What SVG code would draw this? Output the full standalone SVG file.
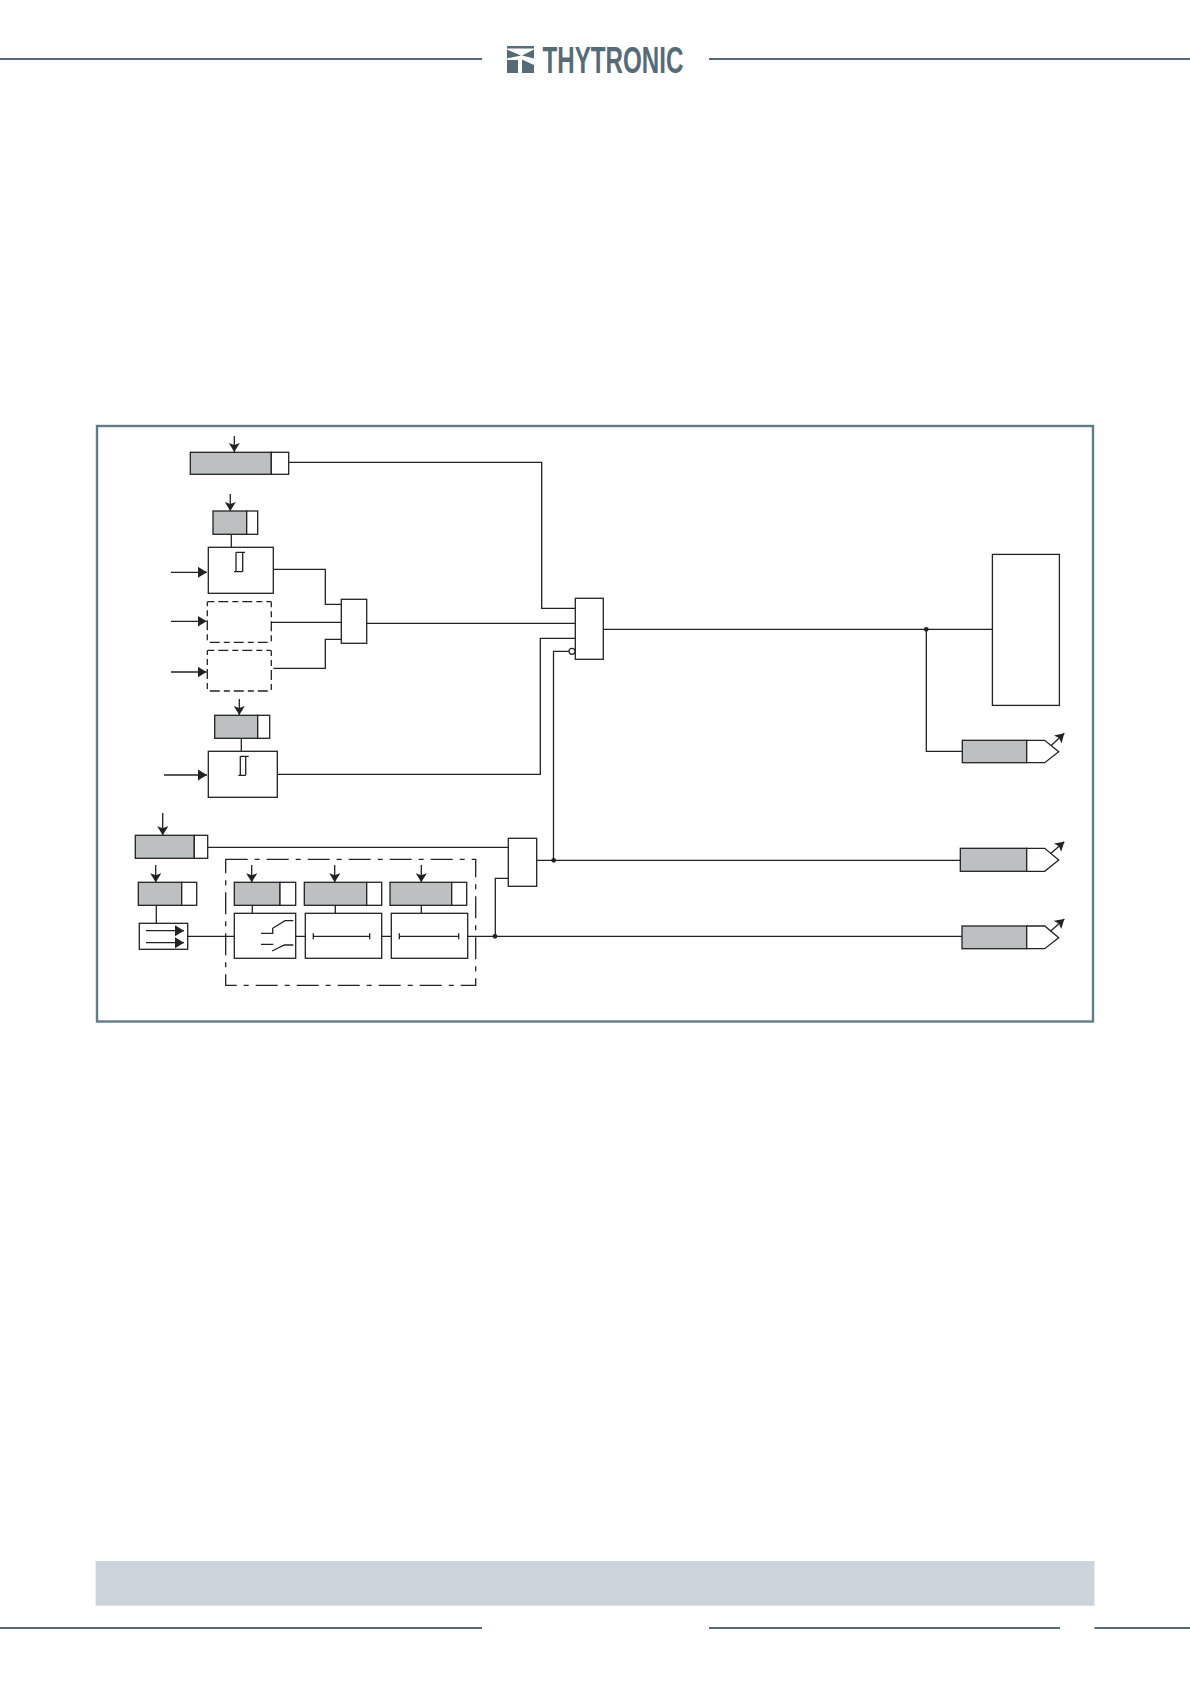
<svg xmlns="http://www.w3.org/2000/svg" width="1190" height="1684" viewBox="0 0 1190 1684">
<style>
.rule{stroke:#566b78;stroke-width:2.2;fill:none}
.l{stroke:#222;stroke-width:1.3;fill:none}
.b{stroke:#222;stroke-width:1.3;fill:#fff}
.g{stroke:#222;stroke-width:1.3;fill:#bcc0c0}
.d{stroke:#222;stroke-width:1.3;fill:none;stroke-dasharray:6 4 10 4}
.dd{stroke:#222;stroke-width:1.3;fill:none;stroke-dasharray:22 7 5 7}
.dot{fill:#222}
</style>
<defs>
<marker id="a" markerUnits="userSpaceOnUse" markerWidth="10" markerHeight="12" refX="9" refY="5.5" orient="auto"><path d="M0 0L9 5.5L0 11L2 5.5Z" fill="#222"/></marker>
<marker id="h" markerUnits="userSpaceOnUse" markerWidth="10" markerHeight="12" refX="9" refY="5.5" orient="auto"><path d="M0 0L9 5.5L0 11Z" fill="#222"/></marker>
</defs>
<rect width="1190" height="1684" fill="#fff"/>
<g id="header">
<path class="rule" d="M0 59H482M709 59H1190"/>
<path fill="#566b78" d="M507 46H534V48.5H507ZM507 49.5L521 55.5L507 58.5ZM534 49.5L522 55.5L534 58.5ZM507 60H518V73H507ZM522 59.5L534 65V73H522Z"/>
<text x="542.5" y="72.7" font-family="'Liberation Sans',sans-serif" font-size="37.5" font-weight="700" fill="#566b78" textLength="141" lengthAdjust="spacingAndGlyphs">THYTRONIC</text>
</g>
<rect id="frame" x="97" y="426" width="996" height="595.5" fill="none" stroke="#5f7d88" stroke-width="2.4"/>
<g id="connectors">
<path class="l" d="M288.7 462.3H541.7V608.3H575.3"/>
<path class="l" marker-end="url(#a)" d="M234.3 436V452"/>
<path class="l" marker-end="url(#a)" d="M230.3 494V511"/>
<path class="l" d="M231.3 534.3V547.3"/>
<path class="l" marker-end="url(#h)" d="M171 572.3H207"/>
<path class="l" marker-end="url(#h)" d="M171 621.3H206.5"/>
<path class="l" marker-end="url(#h)" d="M171 672H206.5"/>
<path class="l" d="M273.3 569.3H325.3V604.3H341.3"/>
<path class="l" d="M271 622.3H341.3"/>
<path class="l" d="M273.3 668.3H325.3V639.3H341.3"/>
<path class="l" d="M366.7 623.3H575.3"/>
<path class="l" marker-end="url(#a)" d="M239.3 699V715"/>
<path class="l" d="M241.3 738.3V751.3"/>
<path class="l" marker-end="url(#h)" d="M164 775H207"/>
<path class="l" d="M277.3 774.3H540.3V638.3H575.3"/>
<path class="l" d="M553.5 860.3V651.3H569"/>
<path class="l" d="M603.3 629.3H992.4"/>
<path class="l" d="M926.3 629.3V751.3H962.3"/>
<path class="l" marker-end="url(#a)" d="M162.7 813V835.3"/>
<path class="l" d="M207.7 847.3H508.3"/>
<path class="l" marker-end="url(#a)" d="M155.7 865V882.3"/>
<path class="l" d="M156.3 905.3V923.3"/>
<path class="l" d="M187.7 936.3H234.3"/>
<path class="l" marker-end="url(#a)" d="M251.7 865V882.3"/>
<path class="l" d="M252.3 905.3V913.3"/>
<path class="l" marker-end="url(#a)" d="M334.7 865V882.3"/>
<path class="l" d="M335.3 905.3V913.3"/>
<path class="l" marker-end="url(#a)" d="M421.3 865V882.3"/>
<path class="l" d="M421.3 905.3V913.3"/>
<path class="l" d="M295.7 936.3H305.3M381.7 936.3H391.3"/>
<path class="l" d="M467.7 936.3H962"/>
<path class="l" d="M495.3 936.3V878.3H508.3"/>
<path class="l" d="M536.7 860.3H960.3"/>
<circle class="dot" cx="926.3" cy="629.3" r="2.4"/>
<circle class="dot" cx="553.7" cy="860.3" r="2.4"/>
<circle class="dot" cx="495" cy="936.3" r="2.4"/>
<path class="l" marker-end="url(#a)" d="M1050.7 746L1064.3 733.3"/>
<path class="l" marker-end="url(#a)" d="M1050.7 853.5L1064.3 841.7"/>
<path class="l" marker-end="url(#a)" d="M1050.7 931L1064.3 919"/>
</g>
<g id="n1"><rect class="g" x="190.3" y="452.3" width="81" height="22"/><rect class="b" x="271.3" y="452.3" width="17.4" height="22"/></g>
<g id="n2"><rect class="g" x="213" y="511" width="33.7" height="23.3"/><rect class="b" x="246.7" y="511" width="11" height="23.3"/></g>
<g id="n3"><rect class="b" x="208.3" y="547.3" width="65" height="46"/><path class="l" d="M236 571.7V552.3M242.7 571.7V552.3M236 552.3H245M234 571.7H242.7"/></g>
<g id="n4"><rect class="d" x="207.3" y="601.7" width="64" height="40.6" rx="1"/></g>
<g id="n5"><rect class="d" x="207.3" y="650.3" width="64" height="40.7" rx="1"/></g>
<g id="n6"><rect class="b" x="341.3" y="599.3" width="25.4" height="44"/></g>
<g id="n7"><rect class="b" x="575.3" y="598.3" width="28" height="61"/><circle cx="572" cy="651.3" r="3" fill="#fff" stroke="#222" stroke-width="1.2"/></g>
<g id="n8"><rect class="g" x="214.7" y="715.3" width="43" height="23"/><rect class="b" x="257.7" y="715.3" width="12" height="23"/></g>
<g id="n9"><rect class="b" x="208.3" y="751.3" width="69" height="46"/><path class="l" d="M240.3 775.3V756.3M245.7 775.3V756.3M240.3 756.3H248.7M238.3 775.3H245.7"/></g>
<g id="n10"><rect class="b" x="992.4" y="554.4" width="67" height="151"/></g>
<g id="n11"><rect class="g" x="135.3" y="835.3" width="59" height="23"/><rect class="b" x="194.3" y="835.3" width="13.4" height="23"/></g>
<g id="n12"><rect class="g" x="138.3" y="882.3" width="43.4" height="23"/><rect class="b" x="181.7" y="882.3" width="15" height="23"/></g>
<g id="n13"><rect class="b" x="139.3" y="923.3" width="48.4" height="26"/><path class="l" marker-end="url(#h)" d="M146 930.7H184"/><path class="l" marker-end="url(#h)" d="M146 942.7H184"/></g>
<g id="n14"><rect class="dd" x="225.7" y="859.3" width="250" height="126"/></g>
<g id="n15"><rect class="g" x="234.3" y="882.3" width="45.7" height="23"/><rect class="b" x="280" y="882.3" width="15.7" height="23"/></g>
<g id="n16"><rect class="b" x="234.3" y="913.3" width="61.4" height="45"/><path class="l" d="M261 933.3H272.7V928.3L285 920.7H293.3M261 944.3H273.3M272 951L284.3 945H293.3"/></g>
<g id="n17"><rect class="g" x="304.3" y="882.3" width="62.4" height="23"/><rect class="b" x="366.7" y="882.3" width="15" height="23"/></g>
<g id="n18"><rect class="b" x="305.3" y="913.3" width="76.4" height="45"/><path class="l" d="M313.3 936.3H369.7M313.3 933.3V939.3M369.7 933.3V939.3"/></g>
<g id="n19"><rect class="g" x="390" y="882.3" width="61.7" height="23"/><rect class="b" x="451.7" y="882.3" width="15" height="23"/></g>
<g id="n20"><rect class="b" x="391.3" y="913.3" width="76.4" height="45"/><path class="l" d="M399.3 936.3H458.7M399.3 933.3V939.3M458.7 933.3V939.3"/></g>
<g id="n21"><rect class="b" x="508.3" y="838.3" width="28.4" height="48"/></g>
<g id="n22"><rect class="g" x="962.3" y="740.3" width="64.4" height="22.4"/><path class="b" d="M1026.7 740.3H1044.7L1058.7 751.7L1044.7 762.7H1026.7Z"/></g>
<g id="n23"><rect class="g" x="960.3" y="848.3" width="66.4" height="23"/><path class="b" d="M1026.7 848.3H1044.7L1058.7 860L1044.7 871.3H1026.7Z"/></g>
<g id="n24"><rect class="g" x="962" y="926" width="64.7" height="22.7"/><path class="b" d="M1026.7 926H1044.7L1058.7 937.7L1044.7 948.7H1026.7Z"/></g>
<g id="footer">
<rect x="95.6" y="1561" width="998.8" height="44.7" fill="#cbd4da"/>
<path class="rule" d="M0 1628H482M709 1628H1060M1094.4 1628H1190"/>
</g>
</svg>
